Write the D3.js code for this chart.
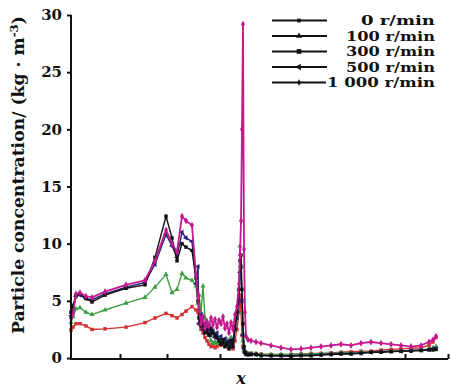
<!DOCTYPE html>
<html><head><meta charset="utf-8">
<script src="https://cdn.jsdelivr.net/npm/d3@7"></script>
<style>body{margin:0;background:#fff}svg{display:block}</style>
</head><body>
<script>
// ---- data ----
const xPos = [0,2,5,9,15,21,34,55,74,84,95,101,106,111,115,121,125,127,
  128,130,132,134,136,138,140,142,144,146,148,150,152,154,156,158,160,162,164,166,
  168,169,170,171,172,173,174,175,177,
  180,185,190,200,210,220,230,240,250,260,270,280,290,300,310,320,330,340,350,358,362,365];
const seriesNames = ["0 r/min","100 r/min","300 r/min","500 r/min","1 000 r/min"];
const vRed = [2.45,2.7,3.0,3.0,2.8,2.5,2.55,2.7,3.1,3.5,3.9,3.7,3.5,3.8,4.1,4.5,4.2,4.0,
  3.0,2.5,2.2,1.8,1.5,1.2,1.0,1.1,0.9,1.0,1.2,1.1,1.3,1.0,1.2,0.9,1.1,0.8,1.5,2.5,
  4.0,5.5,4.0,2.0,1.0,0.6,0.5,0.45,0.4,
  0.4,0.4,0.35,0.3,0.3,0.3,0.35,0.4,0.4,0.45,0.5,0.55,0.6,0.6,0.7,0.75,0.8,0.85,0.9,1.1,1.4,1.8];
const vGreen = [3.1,3.6,4.3,4.4,4.0,3.8,4.2,4.8,5.3,6.2,7.3,5.7,6.0,7.4,7.0,6.8,6.3,4.8,
  5.5,4.0,6.3,3.5,2.8,2.0,1.5,1.3,1.4,1.3,1.4,1.6,1.5,1.3,1.6,1.2,1.8,1.5,2.5,4.0,
  6.0,9.8,8.0,4.0,1.5,0.7,0.5,0.4,0.4,
  0.4,0.35,0.3,0.3,0.3,0.3,0.35,0.35,0.4,0.4,0.45,0.45,0.5,0.5,0.55,0.6,0.6,0.65,0.7,0.8,0.9,1.0];
const vNavy = [3.7,4.2,5.4,5.5,5.2,5.1,5.6,6.2,6.6,8.2,10.8,9.8,8.8,11.0,10.5,10.2,6.5,8.0,
  3.0,3.8,2.5,3.0,2.2,2.8,2.0,2.4,1.8,2.2,1.6,1.9,1.3,1.7,1.2,1.5,1.0,1.6,2.8,3.5,
  5.0,7.5,8.0,5.0,2.0,0.8,0.5,0.35,0.3,
  0.35,0.3,0.25,0.2,0.2,0.2,0.25,0.25,0.3,0.35,0.4,0.4,0.45,0.5,0.55,0.6,0.6,0.65,0.7,0.75,0.8,0.85];
const vBlack = [4.0,4.6,5.5,5.6,5.2,4.9,5.5,6.1,6.4,8.8,12.4,10.5,8.5,10.0,9.7,9.4,7.0,5.0,
  3.5,2.8,3.0,2.2,2.5,2.0,2.6,2.2,2.0,1.8,1.5,1.2,1.6,1.0,1.3,0.8,1.5,1.0,2.5,4.0,
  6.0,8.5,9.0,6.0,3.0,1.0,0.5,0.3,0.3,
  0.3,0.3,0.2,0.2,0.2,0.15,0.2,0.2,0.25,0.3,0.35,0.35,0.4,0.5,0.5,0.55,0.6,0.6,0.65,0.7,0.7,0.75];
const vMagenta = [3.5,3.9,5.6,5.7,5.4,5.3,5.8,6.4,6.8,8.5,11.2,10.0,9.3,12.4,12.0,11.6,7.2,5.4,
  4.2,3.0,3.6,2.6,3.2,2.8,3.5,2.9,3.4,2.7,3.3,3.0,3.6,2.6,3.0,2.2,3.1,2.5,3.8,4.5,
  6.5,9.0,12.0,20.0,29.2,9.5,4.0,1.9,1.6,
  1.5,1.4,1.3,1.1,0.9,0.75,0.8,0.9,1.0,1.1,1.2,1.1,1.3,1.4,1.3,1.2,1.1,1.0,1.1,1.4,1.6,1.9];
const yTicks = [0,5,10,15,20,25,30];
const xTicks = [49,96,149,334,377];

// ---- chart ----
const W=450,H=388;
const svg=d3.select("body").append("svg").attr("width",W).attr("height",H);
const x=d3.scaleLinear().domain([0,377]).range([71,448]);
const y=d3.scaleLinear().domain([0,30]).range([358,15]);
const font="'DejaVu Serif','Liberation Serif',serif";

const series=[
  {vals:vRed,color:"#d6302e",sym:d3.symbolSquare,size:12},
  {vals:vGreen,color:"#3c9e44",sym:d3.symbolTriangle,size:12},
  {vals:vNavy,color:"#23237a",sym:d3.symbolTriangle,size:12,rot:-90},
  {vals:vBlack,color:"#111111",sym:d3.symbolSquare,size:12},
  {vals:vMagenta,color:"#c4198e",sym:d3.symbolDiamond,size:14}
];
const line=d3.line().x(d=>x(d[0])).y(d=>y(d[1]));
series.forEach((s,k)=>{
  const pts=xPos.map((p,i)=>[p,s.vals[i]]);
  const g=svg.append("g");
  g.append("path").attr("d",line(pts)).attr("fill","none").attr("stroke",s.color).attr("stroke-width",k===4?1.8:1.4);
  g.selectAll("path.m").data(pts).enter().append("path").attr("class","m")
    .attr("d",d3.symbol().type(s.sym).size(s.size))
    .attr("transform",d=>`translate(${x(d[0])},${y(d[1])})${s.rot?` rotate(${s.rot})`:""}`)
    .attr("fill",s.color);
});

// axes
const yAxis=d3.axisLeft(y).tickValues(yTicks).tickSize(4).tickPadding(5);
const gy=svg.append("g").attr("transform","translate(71,0)").call(yAxis);
gy.select(".domain").attr("stroke","#111").attr("stroke-width",2).attr("d","M0,15V359");
gy.selectAll(".tick line").attr("stroke","#111").attr("stroke-width",2);
gy.selectAll("text").attr("font-family",font).attr("font-weight","bold").attr("font-size",15).attr("fill","#111");

const xAxis=d3.axisBottom(x).tickValues(xTicks).tickSize(-5).tickFormat("");
const gx=svg.append("g").attr("transform","translate(0,359)").call(xAxis);
gx.select(".domain").attr("stroke","#111").attr("stroke-width",2).attr("d","M70,0H448");
gx.selectAll(".tick line").attr("stroke","#111").attr("stroke-width",2);

// labels
svg.append("text").attr("transform","translate(24,175) rotate(-90)")
  .attr("text-anchor","middle").attr("font-family",font).attr("font-weight","bold")
  .attr("font-size",16).attr("fill","#111")
  .attr("textLength",318).attr("lengthAdjust","spacingAndGlyphs")
  .html("Particle concentration/ (kg · m<tspan dy='-6' font-size='11'>-3</tspan><tspan dy='6'>)</tspan>");
svg.append("text").attr("x",241).attr("y",384).attr("text-anchor","middle")
  .attr("font-family",font).attr("font-weight","bold").attr("font-style","italic")
  .attr("font-size",16).attr("fill","#111").text("x");

// legend
const legY=[20.5,36,51.5,67,82.5];
const legLen=[74,89,89,89,108];
const legSyms=[{sym:d3.symbolSquare,size:14},{sym:d3.symbolTriangle,size:16},{sym:d3.symbolSquare,size:22},{sym:d3.symbolTriangle,size:18,rot:-90},{sym:d3.symbolDiamond,size:12}];
seriesNames.forEach((n,i)=>{
  const g=svg.append("g");
  g.append("line").attr("x1",272).attr("x2",i===4?326:327).attr("y1",legY[i]).attr("y2",legY[i]).attr("stroke","#111").attr("stroke-width",2);
  g.append("path").attr("d",d3.symbol().type(legSyms[i].sym).size(legSyms[i].size))
    .attr("transform",`translate(299,${legY[i]})${legSyms[i].rot?` rotate(${legSyms[i].rot})`:""}`).attr("fill","#111");
  g.append("text").attr("x",435).attr("y",legY[i]+4.5).attr("text-anchor","end")
    .attr("textLength",legLen[i]).attr("lengthAdjust","spacingAndGlyphs")
    .attr("font-family",font).attr("font-weight","bold").attr("font-size",13).attr("fill","#111").text(n);
});
</script>
</body></html>
